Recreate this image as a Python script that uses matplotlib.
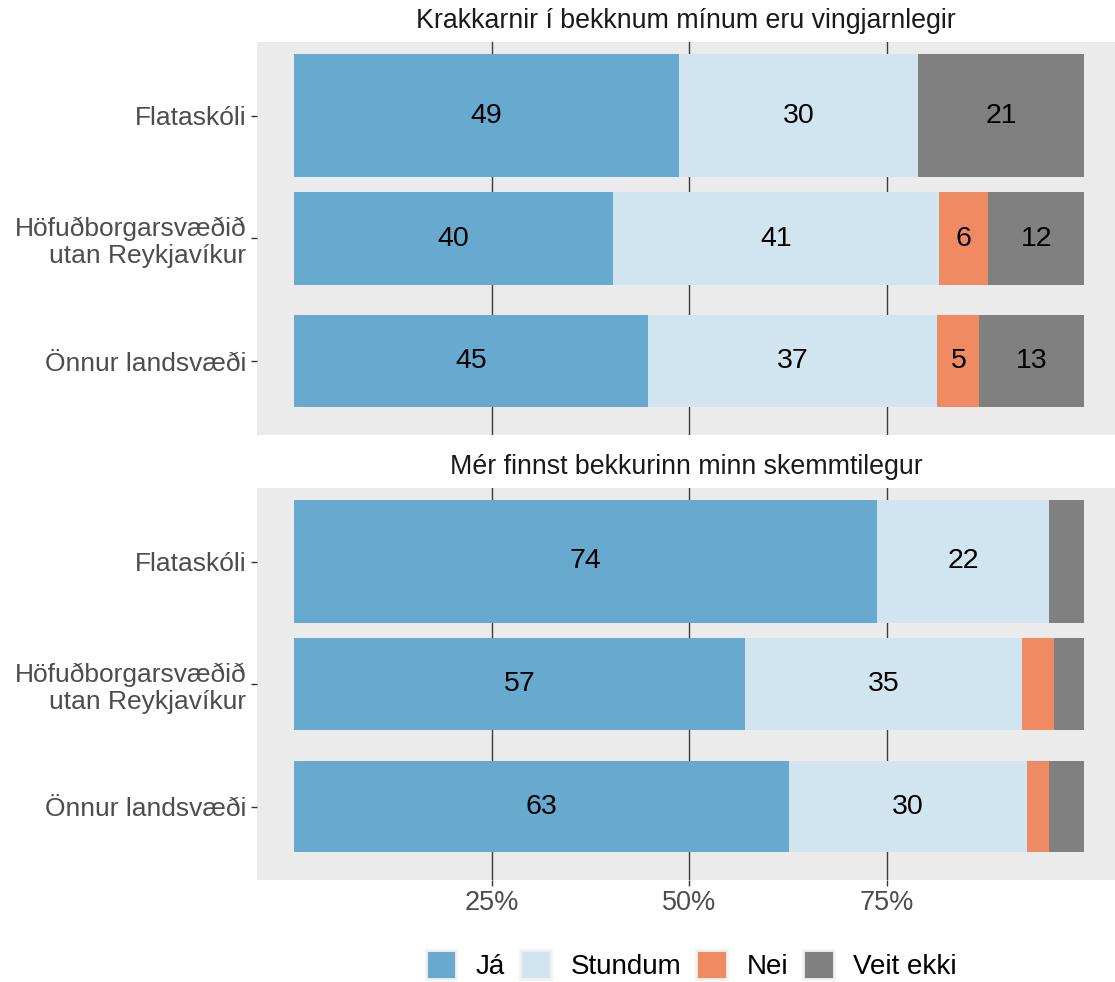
import matplotlib.pyplot as plt
from matplotlib.patches import Patch

plt.rcParams['font.family'] = ['Liberation Sans', 'DejaVu Sans']

titles = ["Krakkarnir í bekknum mínum eru vingjarnlegir",
          "Mér finnst bekkurinn minn skemmtilegur"]
groups = ["Flataskóli", "Höfuðborgarsvæðið\nutan Reykjavíkur", "Önnur landsvæði"]
answers = ["Já", "Stundum", "Nei", "Veit ekki"]
colors = ["#67A9CF", "#D1E5F0", "#EF8A62", "#808080"]
bar_widths = [1.0, 0.75, 0.75]

# percent per group, order: Já, Stundum, Nei, Veit ekki
vingjarnlegir = [
    [48.7, 30.2, 0.0, 21.1],
    [40.3, 41.3, 6.2, 12.2],
    [44.8, 36.6, 5.3, 13.3],
]
skemmtilegur = [
    [73.8, 21.7, 0.0, 4.5],
    [57.1, 35.0, 4.1, 3.8],
    [62.6, 30.1, 2.8, 4.5],
]

fig = plt.figure(figsize=(11.15, 9.82), dpi=100)
panel_rects = [
    [257 / 1115, 1 - 435 / 982, 1 - 257 / 1115, (435 - 42) / 982],
    [257 / 1115, 1 - 880 / 982, 1 - 257 / 1115, (880 - 488) / 982],
]

for k, (title, data) in enumerate(zip(titles, [vingjarnlegir, skemmtilegur])):
    ax = fig.add_axes(panel_rects[k])
    ax.set_facecolor("#EBEBEB")
    for xv in [0.25, 0.5, 0.75]:
        ax.axvline(xv, color="#3C3C3C", lw=1.0, zorder=0)
    for i, row in enumerate(data):
        y = i + 1
        left = 0.0
        for j, v in enumerate(row):
            frac = v / 100
            if frac > 0:
                ax.barh(y, frac, left=left, height=bar_widths[i],
                        color=colors[j], edgecolor="none", zorder=2)
                if round(v) >= 5:
                    ax.text(left + frac / 2, y, f"{round(v)}", ha="center",
                            va="center", fontsize=20.5, color="black", zorder=3)
            left += frac
    ax.set_xlim(-0.047, 1.0386)
    ax.set_ylim(3.6, 0.4)
    ax.set_yticks([1, 2, 3])
    ax.set_yticklabels(groups, fontsize=19, color="#4D4D4D",
                       multialignment="right", linespacing=1.15)
    ax.set_xticks([0.25, 0.5, 0.75])
    if k == 1:
        ax.set_xticklabels(["25%", "50%", "75%"], fontsize=19.5, color="#4D4D4D")
    else:
        ax.set_xticklabels([])
    ax.tick_params(axis="both", color="#333333", width=1.0, length=4.5, pad=3)
    if k == 0:
        ax.tick_params(axis="x", length=0)
    for s in ax.spines.values():
        s.set_visible(False)
    ax.set_title(title, fontsize=19.3, color="#1A1A1A", pad=10)

handles = [Patch(facecolor=c, edgecolor="#F2F2F2", linewidth=2) for c in colors]
fig.legend(handles, answers, loc="center", bbox_to_anchor=(0.62, 1 - 965 / 982),
           ncol=4, frameon=False, fontsize=20, handlelength=1.1, handleheight=1.2,
           handletextpad=0.7, columnspacing=0.55)

fig.savefig("out.png", dpi=100)
